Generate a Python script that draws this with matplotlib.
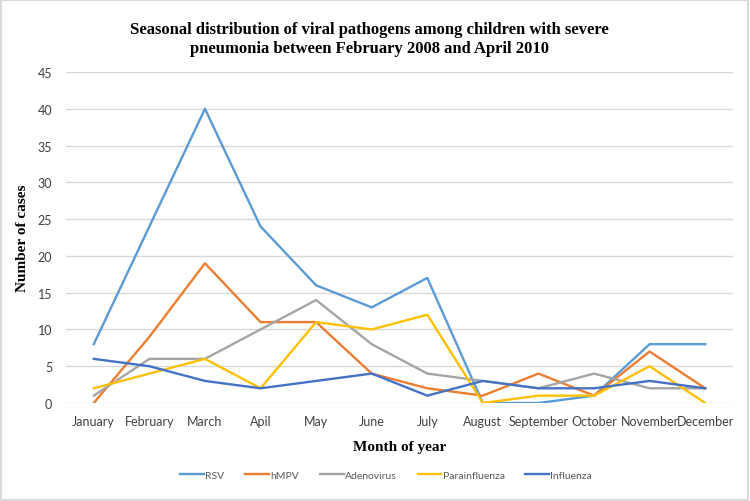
import matplotlib.pyplot as plt
from matplotlib.patches import Rectangle

months = ["January", "February", "March", "Apil", "May", "June", "July",
          "August", "September", "October", "November", "December"]

rsv = [8, 24, 40, 24, 16, 13, 17, 0, 0, 1, 8, 8]
hmpv = [0, 9, 19, 11, 11, 4, 2, 1, 4, 1, 7, 2]
adenovirus = [1, 6, 6, 10, 14, 8, 4, 3, 2, 4, 2, 2]
parainfluenza = [2, 4, 6, 2, 11, 10, 12, 0, 1, 1, 5, 0]
influenza = [6, 5, 3, 2, 3, 4, 1, 3, 2, 2, 3, 2]

series = [
    ("RSV", rsv, "#5B9BD5"),
    ("hMPV", hmpv, "#ED7D31"),
    ("Adenovirus", adenovirus, "#A5A5A5"),
    ("Parainfluenza", parainfluenza, "#FFC000"),
    ("Influenza", influenza, "#4472C4"),
]

sans = ["Lato", "DejaVu Sans"]
serif = ["Liberation Serif", "DejaVu Serif"]

fig = plt.figure(figsize=(7.5, 5.02), dpi=100)
ax = fig.add_axes([66 / 750, 1 - 404 / 502, 667 / 750, 331 / 502])

x = list(range(len(months)))
for name, vals, color in series:
    ax.plot(x, vals, color=color, lw=1.7, label=name)

ax.set_xlim(-0.5, 11.5)
ax.set_ylim(0, 45)
ax.set_yticks(range(0, 46, 5))
ax.set_xticks(x)
ax.set_xticklabels(months, fontsize=9, family=sans, color="#404040")
for lab in ax.get_yticklabels():
    lab.set_fontsize(9)
    lab.set_family(sans)
    lab.set_color("#404040")
ax.tick_params(axis="x", length=0, pad=9)
ax.tick_params(axis="y", length=0, pad=10)
ax.grid(axis="y", color="#D9D9D9", lw=1)
ax.set_axisbelow(True)
for s in ax.spines.values():
    s.set_visible(False)

ax.set_ylabel("Number of cases", fontsize=11, fontweight="bold", family=serif, labelpad=6)
ax.set_xlabel("Month of year", fontsize=11, fontweight="bold", family=serif, labelpad=9)

fig.text(0.493, 0.957, "Seasonal distribution of viral pathogens among children with severe\npneumonia between February 2008 and April 2010",
         ha="center", va="top", fontsize=12, fontweight="bold", family=serif, linespacing=1.25)

leg = fig.legend(loc="center", bbox_to_anchor=(0.515, 1 - 476 / 502), ncol=5, frameon=False,
                 prop={"family": sans, "size": 7.5}, handlelength=2.3, handletextpad=0.1,
                 columnspacing=2.0)
for t in leg.get_texts():
    t.set_color("#595959")

fig.patches.append(Rectangle((0.001, 0.002), 0.996, 0.996, transform=fig.transFigure,
                             fill=False, edgecolor="#D9D9D9", lw=1.5))

fig.savefig("out.png", dpi=100)
